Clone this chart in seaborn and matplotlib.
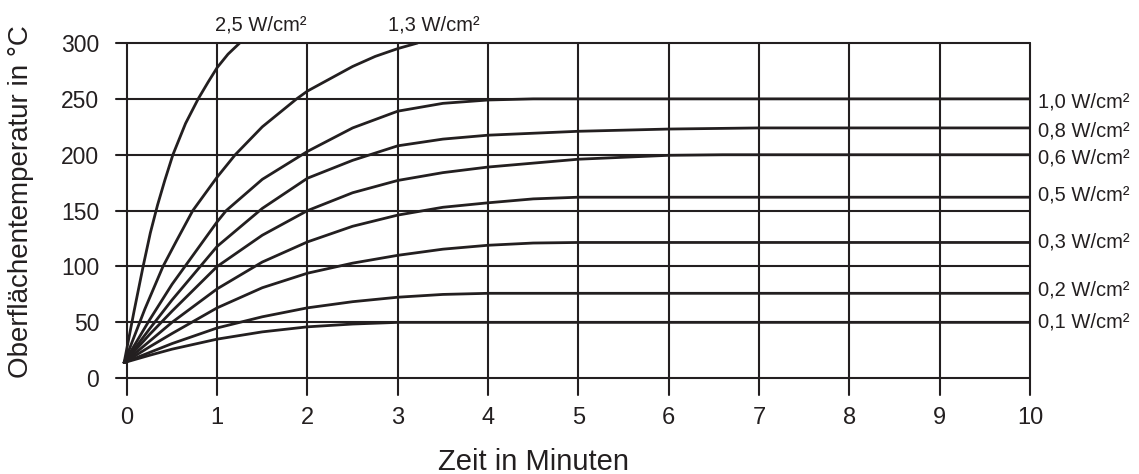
import numpy as np
import pandas as pd
import seaborn as sns
import matplotlib
matplotlib.use("Agg")
import matplotlib.pyplot as plt

sns.set_theme(style="white")
plt.rcParams['font.family'] = ['Liberation Sans', 'DejaVu Sans']

# ---- data ----
series_names = ["2,5", "1,3", "1,0", "0,8", "0,6", "0,5", "0,3", "0,2", "0,1"]

x_25 = [-0.03, 0.08, 0.18, 0.26, 0.34, 0.42, 0.51, 0.65, 0.79, 0.9, 1.0, 1.12, 1.25]
y_25 = [14, 60, 100, 130, 155, 177, 200, 228, 250, 265, 278, 290, 300]

x_13 = [-0.03, 0.2, 0.4, 0.55, 0.73, 1.0, 1.2, 1.5, 1.88, 2.0, 2.5, 2.75, 3.0, 3.22]
y_13 = [14, 62, 100, 123, 150, 180, 200, 225, 250, 257, 279, 288, 295, 300]

x_10 = [-0.03, 0.25, 0.5, 1.0, 1.1, 1.5, 2.0, 2.5, 3.0, 3.5, 4.0, 4.5, 10.0]
y_10 = [14, 52, 84, 140, 150, 178, 203, 224, 239, 246, 249, 250, 250]

x_08 = [-0.03, 0.25, 0.5, 1.0, 1.5, 2.0, 2.5, 3.0, 3.5, 4.0, 5.0, 6.0, 7.0, 10.0]
y_08 = [14, 44, 70, 118, 152, 179, 195, 208, 214, 217.5, 221, 223, 224, 224]

x_06 = [-0.03, 0.25, 0.5, 1.0, 1.5, 2.0, 2.5, 3.0, 3.5, 4.0, 5.0, 6.0, 6.6, 10.0]
y_06 = [14, 39, 60, 100, 128, 150, 166, 177, 184, 189, 196, 199.5, 200, 200]

x_05 = [-0.03, 0.25, 0.5, 1.0, 1.5, 2.0, 2.5, 3.0, 3.5, 4.0, 4.5, 5.0, 10.0]
y_05 = [14, 33, 50, 80, 104, 122, 136, 146, 153, 157, 160.5, 162, 162]

x_03 = [-0.03, 0.25, 0.5, 1.0, 1.5, 2.0, 2.5, 3.0, 3.5, 4.0, 4.5, 5.0, 10.0]
y_03 = [14, 28, 40, 63, 81, 94, 103, 110, 115.5, 119, 121, 121.5, 121.5]

x_02 = [-0.03, 0.25, 0.5, 1.0, 1.5, 2.0, 2.5, 3.0, 3.5, 4.0, 10.0]
y_02 = [14, 23, 31, 45, 55, 63, 68.5, 72.5, 75, 76, 76]

x_01 = [-0.03, 0.25, 0.5, 1.0, 1.5, 2.0, 2.5, 3.0, 10.0]
y_01 = [14, 20.5, 26, 35, 41.5, 46, 48.5, 50, 50]

right_labels = ["1,0 W/cm²", "0,8 W/cm²", "0,6 W/cm²", "0,5 W/cm²",
                "0,3 W/cm²", "0,2 W/cm²", "0,1 W/cm²"]
right_label_y = [247, 221, 197, 164, 122, 79, 50]

top_labels = ["2,5 W/cm²", "1,3 W/cm²"]
top_label_x = [1.48, 3.4]

x_ticks = list(range(0, 11))
y_ticks = [0, 50, 100, 150, 200, 250, 300]

xs = [x_25, x_13, x_10, x_08, x_06, x_05, x_03, x_02, x_01]
ys = [y_25, y_13, y_10, y_08, y_06, y_05, y_03, y_02, y_01]

frames = []
for name, xv, yv in zip(series_names, xs, ys):
    frames.append(pd.DataFrame({"t": xv, "T": yv, "s": name}))
df = pd.concat(frames, ignore_index=True)

# ---- figure ----
ink = "#231f20"
fig = plt.figure(figsize=(11.39, 4.74), dpi=100)
ax = fig.add_axes([116/1139, 1-395/474, (1030-116)/1139, (395-43)/474])
ax.set_xlim(-0.12, 10)
ax.set_ylim(-15, 300)

for yv in y_ticks:
    ax.axhline(yv, color=ink, lw=1.5, clip_on=False, zorder=1)
for xv in x_ticks:
    ax.axvline(xv, color=ink, lw=1.5, clip_on=False, zorder=1)

sns.lineplot(data=df, x="t", y="T", hue="s", units="s", estimator=None,
             palette=[ink]*len(series_names), legend=False, sort=False,
             lw=2.0, ax=ax, zorder=3)
for ln in ax.lines[-len(series_names):]:
    ln.set_solid_capstyle("round")
    ln.set_solid_joinstyle("round")

for s in ax.spines.values():
    s.set_visible(False)

ax.set_xticks(x_ticks)
ax.set_yticks(y_ticks)
ax.tick_params(axis="both", length=0, colors=ink)
ax.tick_params(axis="x", labelsize=17, pad=9)
ax.tick_params(axis="y", labelsize=16.5, pad=12)
ax.set_xlabel("")
ax.set_ylabel("")

for lab, yv in zip(right_labels, right_label_y):
    ax.text(10.09, yv, lab, ha="left", va="center", fontsize=14.5, color=ink,
            clip_on=False)
for lab, xv in zip(top_labels, top_label_x):
    ax.text(xv, 316, lab, ha="center", va="center", fontsize=14.5, color=ink,
            clip_on=False)

fig.text(534/1139, 1-462/474, "Zeit in Minuten", ha="center", va="center",
         fontsize=21, color=ink)
fig.text(21/1139, 1-202/474, "Oberflächentemperatur in °C", ha="center",
         va="center", rotation=90, fontsize=20, color=ink)

fig.savefig("out.png", dpi=100, facecolor="white")
